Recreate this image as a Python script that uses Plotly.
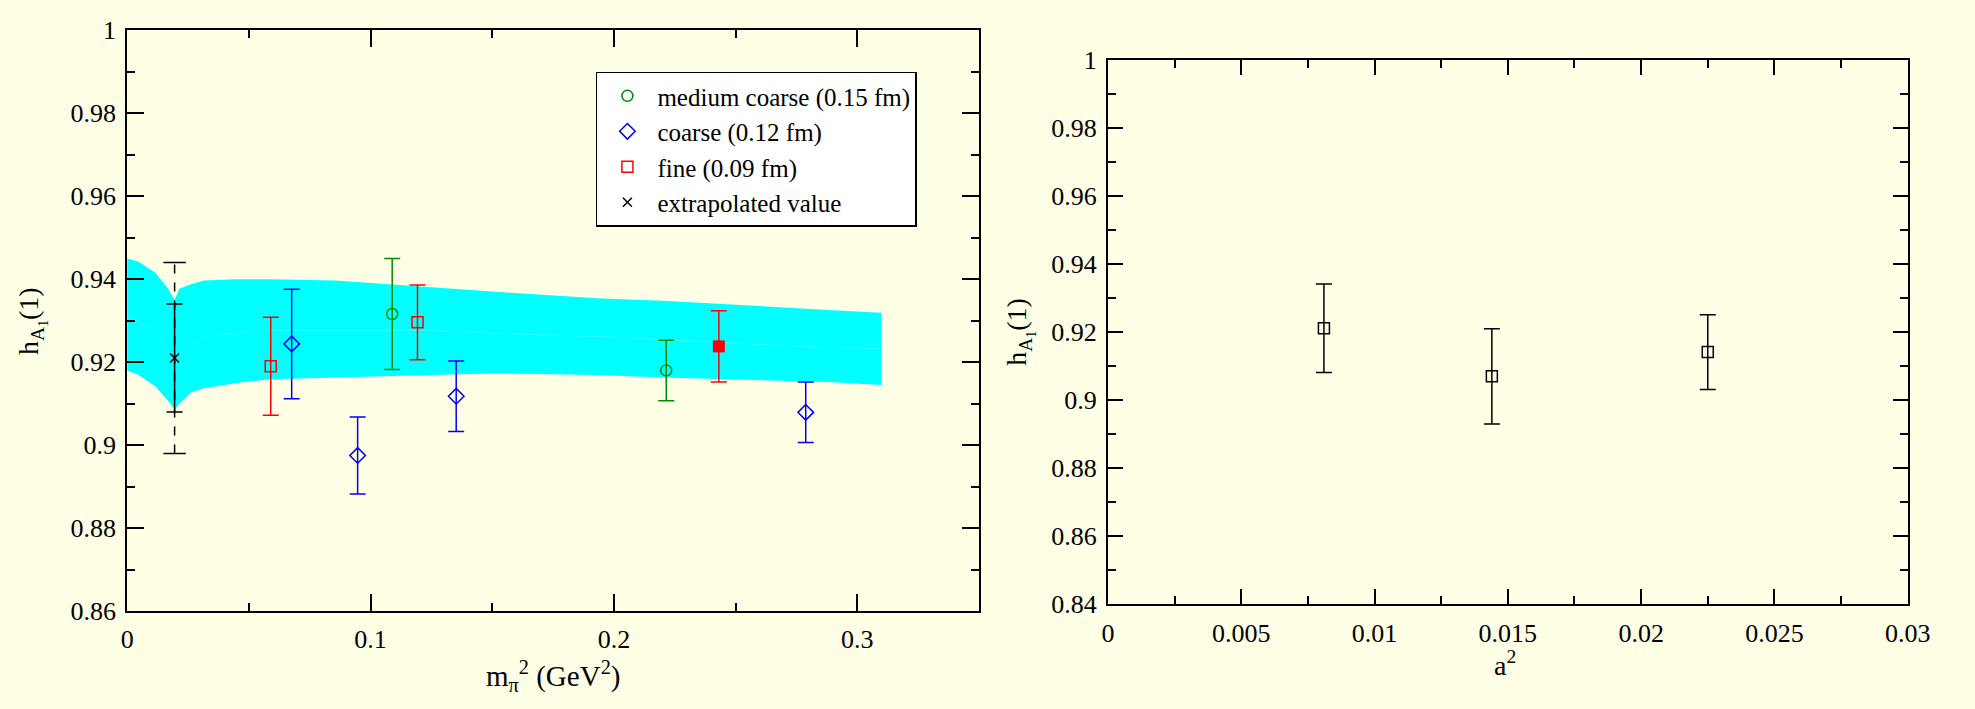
import plotly.graph_objects as go

# ---- left panel: h_A1(1) versus m_pi^2 ----
mc_x = [0.1089, 0.2215]            # medium coarse (0.15 fm)
mc_y = [0.9316, 0.9180]
mc_err = [0.0134, 0.0073]

co_x = [0.0676, 0.0947, 0.1352, 0.2788]   # coarse (0.12 fm)
co_y = [0.9244, 0.8975, 0.9118, 0.9079]
co_err = [0.0132, 0.0093, 0.0085, 0.0073]

fi_x = [0.0590, 0.1193]            # fine (0.09 fm)
fi_y = [0.9190, 0.9296]
fi_err = [0.0118, 0.0090]

fi_fill_x = [0.2431]               # fine ensemble drawn solid
fi_fill_y = [0.9238]
fi_fill_err = [0.0086]

ext_x = [0.0195]                   # extrapolated value
ext_y = [0.921]
ext_stat = [0.013]
ext_tot = [0.023]

# chiral fit error band
band_x = [0.0, 0.0047, 0.0115, 0.0167, 0.0195, 0.0214, 0.0262, 0.0316, 0.045,
          0.0586, 0.0855, 0.126, 0.153, 0.193, 0.220, 0.288, 0.310]
band_hi = [0.9450, 0.9442, 0.9416, 0.9378, 0.9350, 0.9377, 0.9388, 0.9397, 0.9400,
           0.9400, 0.9397, 0.9380, 0.9369, 0.9354, 0.9348, 0.9326, 0.9319]
band_lo = [0.9180, 0.9169, 0.9142, 0.9108, 0.9085, 0.9100, 0.9127, 0.9137, 0.9150,
           0.9159, 0.9162, 0.9169, 0.9173, 0.9169, 0.9163, 0.9152, 0.9145]
band_mid_x = [0.0, 0.0100, 0.0195, 0.0316, 0.0586, 0.126, 0.153, 0.193, 0.288, 0.310]
band_mid = [0.9310, 0.9280, 0.9210, 0.9262, 0.9277, 0.9277, 0.9269, 0.9262, 0.9235, 0.9233]

# ---- right panel: h_A1(1) versus a^2 ----
a2_x = [0.0081, 0.0144, 0.0225]
a2_y = [0.9211, 0.9070, 0.9141]
a2_err = [0.0130, 0.0140, 0.0110]

BG = "#ffffe6"
FONT = "Liberation Serif, Times New Roman, serif"
GREEN = "#008b00"
BLUE = "#0000ff"
RED = "#ff0000"

fig = go.Figure()

# band polygon
fig.add_trace(go.Scatter(
    x=band_x + band_x[::-1], y=band_hi + band_lo[::-1],
    fill="toself", fillcolor="#00ffff", line=dict(width=0, color="#00ffff"),
    mode="lines", showlegend=False, hoverinfo="skip", xaxis="x", yaxis="y"))
fig.add_trace(go.Scatter(
    x=band_mid_x, y=band_mid, mode="lines",
    line=dict(color="rgba(255,255,255,0.2)", width=1),
    showlegend=False, hoverinfo="skip", xaxis="x", yaxis="y"))

# dashed total-error bar of the extrapolated value
ext_bar_x = [ext_x[0], ext_x[0]]
ext_bar_y = [ext_y[0] - ext_tot[0], ext_y[0] + ext_tot[0]]
fig.add_trace(go.Scatter(
    x=ext_bar_x, y=ext_bar_y, mode="lines+markers",
    line=dict(color="black", width=1.5, dash="dash"),
    marker=dict(symbol="line-ew-open", size=16, line=dict(color="black", width=1.5)),
    showlegend=False, hoverinfo="skip", xaxis="x", yaxis="y"))


def err(arr, color):
    return dict(type="data", array=arr, visible=True, color=color,
                thickness=1.5, width=8)


fig.add_trace(go.Scatter(
    x=mc_x, y=mc_y, mode="markers", name="medium coarse (0.15 fm)",
    marker=dict(symbol="circle-open", size=11, color=GREEN, line=dict(width=1.5)),
    error_y=err(mc_err, GREEN), xaxis="x", yaxis="y"))
fig.add_trace(go.Scatter(
    x=co_x, y=co_y, mode="markers", name="coarse (0.12 fm)",
    marker=dict(symbol="diamond-open", size=12, color=BLUE, line=dict(width=1.5)),
    error_y=err(co_err, BLUE), xaxis="x", yaxis="y"))
fig.add_trace(go.Scatter(
    x=fi_x, y=fi_y, mode="markers", name="fine (0.09 fm)",
    marker=dict(symbol="square-open", size=11, color=RED, line=dict(width=1.5)),
    error_y=err(fi_err, RED), xaxis="x", yaxis="y"))
fig.add_trace(go.Scatter(
    x=ext_x, y=ext_y, mode="markers", name="extrapolated value",
    marker=dict(symbol="x-thin-open", size=9, color="black", line=dict(width=1.5)),
    error_y=err(ext_stat, "black"), xaxis="x", yaxis="y"))
fig.add_trace(go.Scatter(
    x=fi_fill_x, y=fi_fill_y, mode="markers", showlegend=False,
    marker=dict(symbol="square", size=12, color=RED),
    error_y=err(fi_fill_err, RED), xaxis="x", yaxis="y"))

fig.add_trace(go.Scatter(
    x=a2_x, y=a2_y, mode="markers", showlegend=False,
    marker=dict(symbol="square-open", size=11, color="black", line=dict(width=1.5)),
    error_y=err(a2_err, "black"), xaxis="x2", yaxis="y2"))

tickfont = dict(family=FONT, size=26, color="black")


def axis(domain, rng, dtick, minor_dtick, anchor, majlen):
    return dict(domain=domain, range=rng, dtick=dtick, tick0=0, anchor=anchor,
                showgrid=False, zeroline=False, showline=True, linecolor="black",
                linewidth=2, mirror="allticks", ticks="inside", ticklen=majlen,
                tickwidth=2, tickcolor="black", tickfont=tickfont,
                ticklabelstandoff=4,
                minor=dict(dtick=minor_dtick, tick0=0, ticks="inside", ticklen=8,
                           tickwidth=2, tickcolor="black", showgrid=False))


W, H = 1975, 709
fig.update_layout(
    width=W, height=H,
    margin=dict(l=0, r=0, t=0, b=0),
    paper_bgcolor=BG, plot_bgcolor=BG,
    font=dict(family=FONT, color="black"),
    xaxis=axis([122 / W, 987 / W], [0, 0.35], 0.1, 0.05, "y", 17),
    yaxis=axis([1 - 622.5 / H, 1 - 17 / H], [0.86, 1.0], 0.02, 0.01, "x", 17),
    xaxis2=axis([1118 / W, 1930 / W], [0, 0.03], 0.005, 0.0025, "y2", 15),
    yaxis2=axis([1 - 615.5 / H, 1 - 47.7 / H], [0.84, 1.0], 0.02, 0.01, "x2", 15),
    legend=dict(x=598 / W, y=1 - 60 / H, xanchor="left", yanchor="top",
                bgcolor="white", bordercolor="black", borderwidth=1.5,
                font=dict(family=FONT, size=25, color="black"),
                itemwidth=50, tracegroupgap=0),
    showlegend=True,
    annotations=[
        dict(text="h<sub>A<sub>1</sub></sub>(1)", textangle=-90,
             x=25.5 / W, y=1 - 320 / H, xref="paper", yref="paper",
             xanchor="center", yanchor="middle", showarrow=False,
             font=dict(family=FONT, size=28, color="black")),
        dict(text="h<sub>A<sub>1</sub></sub>(1)", textangle=-90,
             x=1028.5 / W, y=1 - 331.5 / H, xref="paper", yref="paper",
             xanchor="center", yanchor="middle", showarrow=False,
             font=dict(family=FONT, size=28, color="black")),
        dict(text="m<sub>π</sub><sup>2</sup> (GeV<sup>2</sup>)",
             x=554 / W, y=1 - 690 / H, xref="paper", yref="paper",
             xanchor="center", yanchor="middle", showarrow=False,
             font=dict(family=FONT, size=29, color="black")),
        dict(text="a<sup>2</sup>",
             x=1521 / W, y=1 - 677 / H, xref="paper", yref="paper",
             xanchor="center", yanchor="middle", showarrow=False,
             font=dict(family=FONT, size=28, color="black")),
    ],
)

fig.write_html("out.html")
